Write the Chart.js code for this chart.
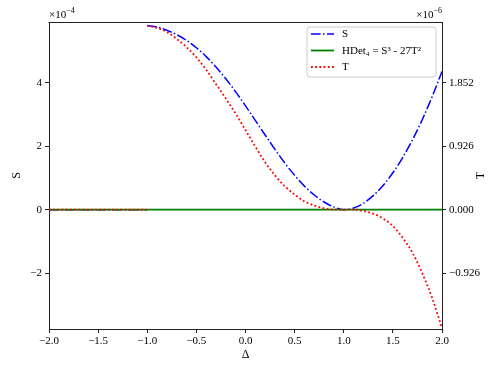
<!DOCTYPE html>
<html>
<head>
<meta charset="utf-8">
<script src="https://cdn.jsdelivr.net/npm/chart.js@4.4.1/dist/chart.umd.min.js"></script>
<style>
  html, body { margin: 0; padding: 0; background: #fff; }
  #wrap { width: 498px; height: 374px; }
</style>
</head>
<body>
<div id="wrap"><canvas id="chart" width="498" height="374"></canvas></div>
<script>
/* values: S in units of 1e-4, T in units of 1e-6 */
const flatDelta = [-2.0, -1.5, -1.0];
const flatS     = [0, 0, 0];
const flatT     = [0, 0, 0];

const delta = [-1.0, -0.9, -0.8, -0.7, -0.6, -0.5, -0.4, -0.3, -0.2, -0.1,
                0.0,  0.1,  0.2,  0.3,  0.4,  0.5,  0.6,  0.7,  0.8,  0.9,
                1.0,  1.1,  1.2,  1.3,  1.4,  1.5,  1.6,  1.7,  1.8,  1.9, 2.0];
const sVals = [5.80, 5.75, 5.65, 5.51, 5.33, 5.10, 4.82, 4.49, 4.12, 3.71,
               3.27, 2.81, 2.35, 1.90, 1.47, 1.08, 0.74, 0.46, 0.24, 0.08,
               0.00, 0.05, 0.20, 0.44, 0.76, 1.16, 1.64, 2.20, 2.84, 3.56, 4.35];
const tVals = [2.685, 2.65, 2.59, 2.49, 2.37, 2.22, 2.04, 1.83, 1.62, 1.40,
               1.16, 0.92, 0.69, 0.50, 0.34, 0.22, 0.12, 0.06, 0.02, 0.00,
               0.00, 0.00, -0.02, -0.06, -0.13, -0.24, -0.41, -0.63, -0.93, -1.29, -1.73];

const hdetDelta = [-2.0, 2.0];
const hdetVals  = [0, 0];

const xTicks = [-2.0, -1.5, -1.0, -0.5, 0.0, 0.5, 1.0, 1.5, 2.0];
const sTicks = [-2, 0, 2, 4];
const tTicks = [-0.926, 0.000, 0.926, 1.852];
const sRange = [-3.76, 5.91];

const SERIF = '"Liberation Serif", "DejaVu Serif", serif';
const tScale = tTicks[3] / sTicks[3];

const pts = (xs, ys) => xs.map((x, i) => ({ x: x, y: ys[i] }));
const minus = s => s.replace('-', '\u2212');

const sData = [...pts(flatDelta, flatS), { x: -1.0, y: null }, ...pts(delta, sVals)];
const tData = [...pts(flatDelta, flatT), { x: -1.0, y: null }, ...pts(delta, tVals)];

/* ─── frame, offset labels, axis titles, legend ─── */
const decorations = {
  id: 'decorations',
  afterDraw(chart) {
    const ctx = chart.ctx;
    const a = chart.chartArea;
    ctx.save();

    // top spine
    ctx.strokeStyle = '#222';
    ctx.lineWidth = 1;
    ctx.beginPath();
    ctx.moveTo(a.left - 0.5, a.top + 0.5);
    ctx.lineTo(a.right + 0.5, a.top + 0.5);
    ctx.stroke();

    ctx.fillStyle = '#000';

    // offset labels x10^-4 / x10^-6
    const offset = (x, exp, alignRight) => {
      ctx.font = '11px ' + SERIF;
      const base = '\u00d710';
      const bw = ctx.measureText(base).width;
      ctx.font = '8px ' + SERIF;
      const ew = ctx.measureText(exp).width;
      const x0 = alignRight ? x - bw - ew : x;
      ctx.textAlign = 'left';
      ctx.textBaseline = 'alphabetic';
      ctx.font = '11px ' + SERIF;
      ctx.fillText(base, x0, 18);
      ctx.font = '8px ' + SERIF;
      ctx.fillText(exp, x0 + bw, 13);
    };
    offset(a.left, '\u22124', false);
    offset(a.right, '\u22126', true);

    // axis titles
    ctx.font = '12px ' + SERIF;
    ctx.textAlign = 'center';
    ctx.textBaseline = 'middle';
    ctx.fillText('\u0394', (a.left + a.right) / 2, 355);
    [['S', 17], ['T', 481]].forEach(([txt, x]) => {
      ctx.save();
      ctx.translate(x, (a.top + a.bottom) / 2);
      ctx.rotate(-Math.PI / 2);
      ctx.fillText(txt, 0, 0);
      ctx.restore();
    });

    // legend box
    const bx = 307, by = 27, bw = 129, bh = 50, r = 3;
    ctx.beginPath();
    ctx.moveTo(bx + r, by);
    ctx.arcTo(bx + bw, by, bx + bw, by + bh, r);
    ctx.arcTo(bx + bw, by + bh, bx, by + bh, r);
    ctx.arcTo(bx, by + bh, bx, by, r);
    ctx.arcTo(bx, by, bx + bw, by, r);
    ctx.closePath();
    ctx.fillStyle = 'rgba(255,255,255,0.8)';
    ctx.fill();
    ctx.strokeStyle = '#cccccc';
    ctx.lineWidth = 1;
    ctx.stroke();

    const rows = [34, 50.5, 67];
    chart.data.datasets.forEach((ds, i) => {
      const y = rows[i];
      ctx.beginPath();
      ctx.strokeStyle = ds.borderColor;
      ctx.lineWidth = ds.borderWidth;
      ctx.setLineDash(ds.borderDash || []);
      ctx.moveTo(311, y);
      ctx.lineTo(334, y);
      ctx.stroke();
      ctx.setLineDash([]);
      ctx.fillStyle = '#000';
      ctx.font = '11px ' + SERIF;
      ctx.textAlign = 'left';
      ctx.textBaseline = 'middle';
      ctx.fillText(ds.label, 342, y + 0.5);
    });

    ctx.restore();
  }
};

const tickFont = { family: SERIF, size: 11 };
const axisGrid = { drawOnChartArea: false, drawTicks: true, tickLength: 4, color: '#222' };
const axisBorder = { display: true, color: '#222', width: 1 };

new Chart(document.getElementById('chart'), {
  type: 'line',
  data: {
    datasets: [
      {
        label: 'S',
        data: sData,
        yAxisID: 'y',
        borderColor: '#0000ff',
        borderWidth: 1.5,
        borderDash: [9.6, 2.4, 1.5, 2.4],
        pointRadius: 0,
        cubicInterpolationMode: 'monotone',
        order: 3,
      },
      {
        label: 'HDet\u2084 = S\u00b3 - 27T\u00b2',
        data: pts(hdetDelta, hdetVals),
        yAxisID: 'y',
        borderColor: '#008000',
        borderWidth: 1.8,
        pointRadius: 0,
        order: 2,
      },
      {
        label: 'T',
        data: tData,
        yAxisID: 'y2',
        borderColor: '#ff0000',
        borderWidth: 1.8,
        borderDash: [1.8, 2.4],
        pointRadius: 0,
        cubicInterpolationMode: 'monotone',
        order: 1,
      },
    ]
  },
  options: {
    responsive: false,
    animation: false,
    events: [],
    layout: { padding: { top: 22, left: 0, right: 0, bottom: 0 } },
    plugins: {
      legend: { display: false },
      tooltip: { enabled: false },
    },
    scales: {
      x: {
        type: 'linear',
        min: xTicks[0], max: xTicks[xTicks.length - 1],
        afterBuildTicks: s => { s.ticks = xTicks.map(v => ({ value: v })); },
        afterFit: s => { s.height = 45; },
        grid: axisGrid,
        border: axisBorder,
        ticks: {
          color: '#000', font: tickFont, padding: 2, maxRotation: 0,
          callback: v => minus(v.toFixed(1)),
        },
      },
      y: {
        position: 'left',
        min: sRange[0], max: sRange[1],
        afterBuildTicks: s => { s.ticks = sTicks.map(v => ({ value: v })); },
        afterFit: s => { s.width = 49; },
        grid: axisGrid,
        border: axisBorder,
        ticks: { color: '#000', font: tickFont, padding: 3, callback: v => minus(String(v)) },
      },
      y2: {
        position: 'right',
        min: sRange[0] * tScale, max: sRange[1] * tScale,
        afterBuildTicks: s => { s.ticks = tTicks.map(v => ({ value: v })); },
        afterFit: s => { s.width = 56; },
        grid: axisGrid,
        border: axisBorder,
        ticks: { color: '#000', font: tickFont, padding: 3, callback: v => minus(v.toFixed(3)) },
      },
    }
  },
  plugins: [decorations]
});
</script>
</body>
</html>
